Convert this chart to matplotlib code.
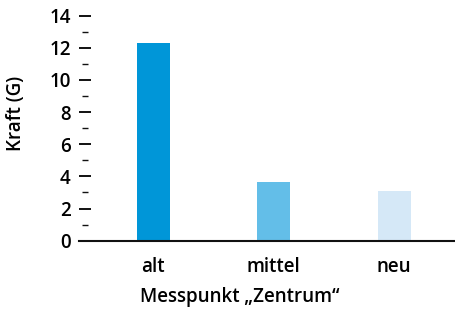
import matplotlib
matplotlib.use("Agg")
import matplotlib.pyplot as plt
from matplotlib.ticker import MultipleLocator

# data
categories = ["alt", "mittel", "neu"]
kraft = [12.3, 3.65, 3.1]
colors = ["#0096d8", "#63bee8", "#d5e8f7"]

plt.rcParams["font.family"] = ["Open Sans", "DejaVu Sans"]
plt.rcParams["font.weight"] = "semibold"

fig = plt.figure(figsize=(4.56, 3.09), dpi=100)
ax = fig.add_axes([79 / 456, (309 - 240.7) / 309, 377 / 456, 225 / 309])

x = range(len(categories))
ax.bar(x, kraft, width=0.274, color=colors)

ax.set_xlim(-0.618, 2.515)
ax.set_ylim(0, 14)

for s in ["top", "right", "left"]:
    ax.spines[s].set_visible(False)
ax.spines["bottom"].set_linewidth(1.5)
ax.spines["bottom"].set_color("#111111")
ax.spines["left"].set_position(("outward", -4))

ax.yaxis.set_major_locator(MultipleLocator(2))
ax.yaxis.set_minor_locator(MultipleLocator(1))
ax.tick_params(axis="y", which="major", direction="inout", length=8, width=1.4,
               color="#111111", pad=6, labelsize=13.5)
ax.tick_params(axis="y", which="minor", direction="inout", length=4.3, width=1.0,
               color="#111111")
ax.tick_params(axis="x", length=0, pad=12, labelsize=13.5)

ax.set_xticks(list(x))
ax.set_xticklabels(categories, fontweight="semibold")

ax.set_ylabel("Kraft (G)", fontsize=13.5, fontweight="semibold")
ax.yaxis.set_label_coords(-0.14, 0.567)
ax.set_xlabel("Messpunkt \u201eZentrum\u201c", fontsize=13.5, fontweight="semibold")
ax.xaxis.set_label_coords(0.427, -0.25)
ax.xaxis.label.set_va("center")

fig.savefig("out.png", dpi=100)
